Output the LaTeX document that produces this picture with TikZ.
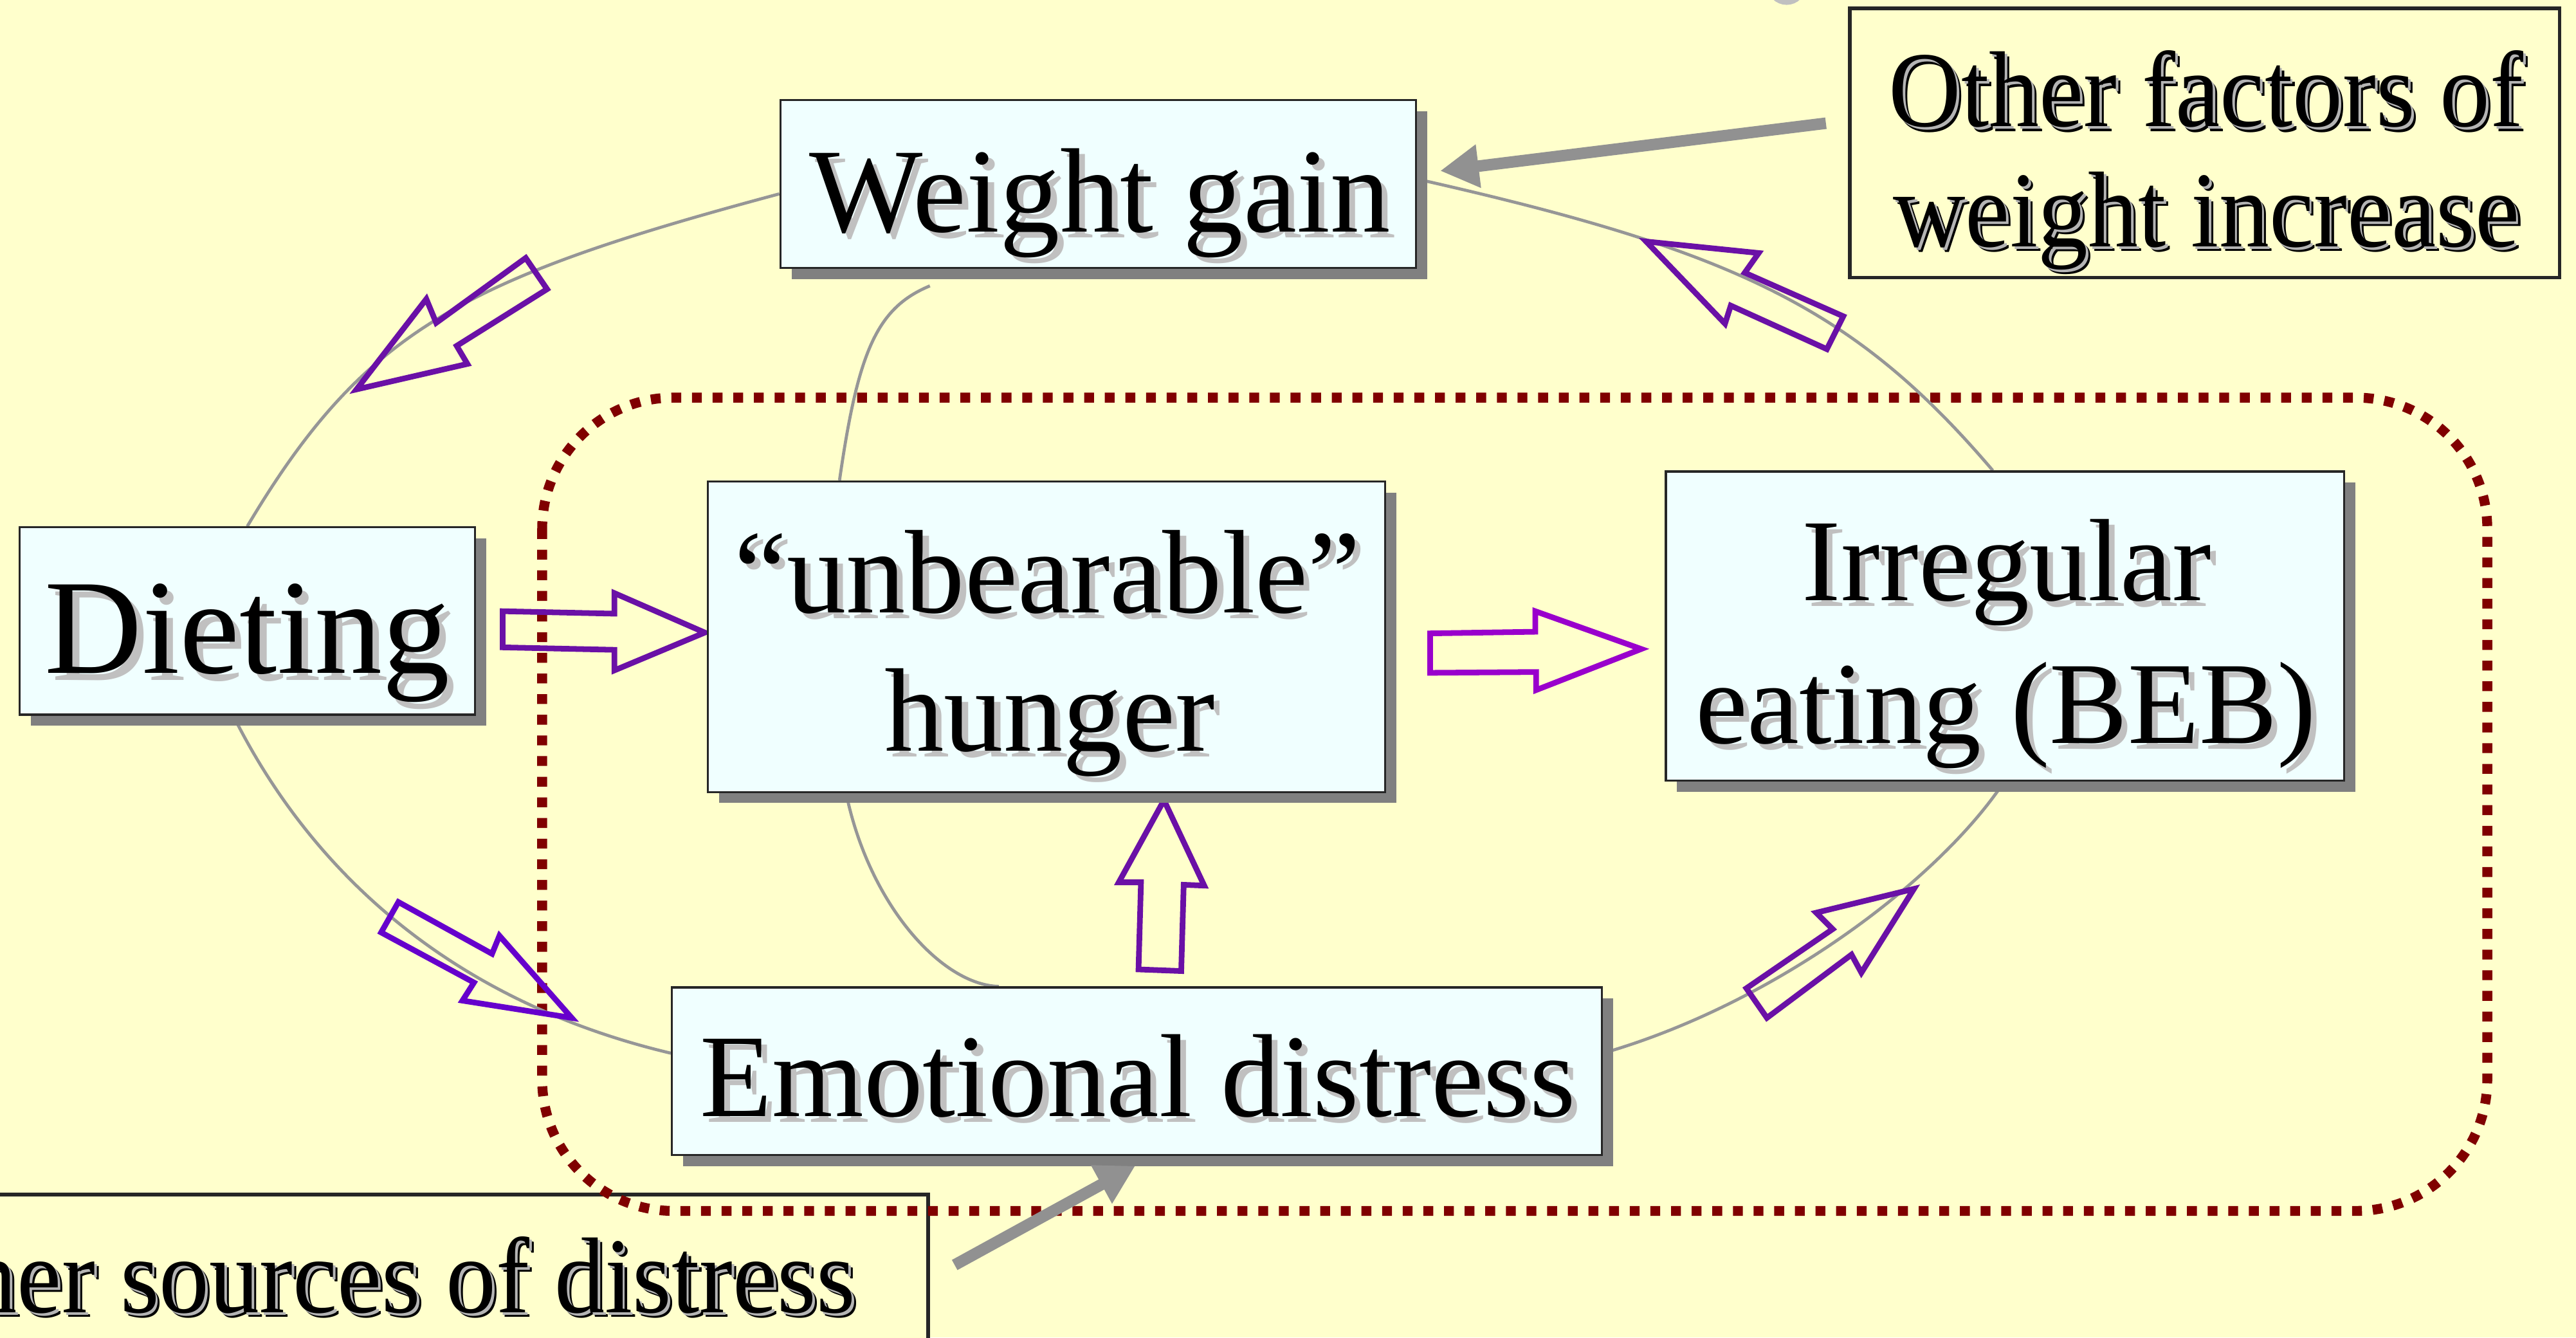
\documentclass[tikz,border=0pt]{standalone}
\usepackage{fontspec}
\setmainfont{Liberation Serif}
\usepackage{graphicx}
\usetikzlibrary{calc,fit,shadows,arrows.meta}

\pgfdeclarelayer{bg}
\pgfsetlayers{bg,main}

\definecolor{slideyellow}{RGB}{255,255,204}
\definecolor{boxfill}{RGB}{240,255,255}
\definecolor{boxline}{RGB}{38,38,38}
\definecolor{boxshade}{RGB}{128,128,128}
\definecolor{loopgray}{RGB}{150,150,150}
\definecolor{hintgray}{RGB}{145,145,145}
\definecolor{txtshade}{RGB}{192,192,192}
\definecolor{embgray}{RGB}{180,180,180}
\definecolor{zonered}{RGB}{128,0,0}
\definecolor{arrowpurple}{RGB}{106,16,166}
\definecolor{arrowmagenta}{RGB}{153,0,204}
\definecolor{arrowviolet}{RGB}{102,0,204}

% text with a soft shadow (cyan boxes)
\newcommand{\shtxt}[1]{\makebox[0pt][l]{\kern0.05em\raisebox{-0.05em}{\textcolor{txtshade}{#1}}}#1}
% embossed, narrow text (yellow boxes)
\newcommand{\embtxt}[1]{\scalebox{0.93}[1]{\makebox[0pt][l]{\kern0.045em\raisebox{-0.045em}{#1}}\makebox[0pt][l]{\kern0.025em\raisebox{-0.025em}{\textcolor{embgray}{#1}}}#1}}

\tikzset{
  cyanbox/.style={draw=boxline, line width=0.8pt, fill=boxfill, inner sep=0pt,
    drop shadow={shadow xshift=4.35pt, shadow yshift=-4.35pt, opacity=1, fill=boxshade}},
  notebox/.style={draw=boxline, line width=1.4pt, fill=slideyellow, inner sep=0pt},
  loopline/.style={draw=loopgray, line width=1.2pt},
  bigarrow/.style={draw=arrowpurple, line width=2.2pt, line join=miter},
  hintarrow/.style={draw=hintgray, line width=4.5pt, -{Triangle[length=15pt,width=16pt]}},
  lbl/.style={anchor=base, inner sep=0pt},
}

\begin{document}
\begin{tikzpicture}[x=0.64pt,y=0.64pt,yscale=-1,xscale=1]
\useasboundingbox (0,0) rectangle (1568,814);

%Shape: Rectangle
\node [cyanbox, fit={(475,61) (862,163)}] (wg) {};
%Shape: Rectangle
\node [cyanbox, fit={(12,321) (289,435)}] (diet) {};
%Shape: Rectangle
\node [cyanbox, fit={(431,293) (843,482)}] (hun) {};
%Shape: Rectangle
\node [cyanbox, fit={(1014,287) (1427,475)}] (irr) {};
%Shape: Rectangle
\node [cyanbox, fit={(409,601) (975,703)}] (emo) {};
%Shape: Rectangle
\node [notebox, fit={(1126,5) (1558,169)}] (oth) {};

\begin{pgfonlayer}{bg}
\fill [slideyellow] (0,0) rectangle (1568,814);
%Shape: Circle
\draw [draw=txtshade, line width=2.5pt, fill={rgb,255:red,220;green,220;blue,205}] (1087.5,-9) circle (10);
%Shape: Rectangle
\node [notebox, fit={(-200,727) (565,900)}] (src) {};
% Text Node
\draw (521,798.7) node [lbl, anchor=base east, font=\fontsize{42}{50}\selectfont] (srctxt) {\embtxt{Other sources of distress}};

%Rounded Rect
\draw [draw=zonered, line width=3.84pt, dash pattern=on 3.84pt off 4.2pt, rounded corners=51.2pt] (330,242) rectangle (1514,737);

%Curve Lines
\draw [loopline] ($(wg.west)+(0,6)$) .. controls (281.8,169.6) and (221.7,200.7) .. (diet.north);
%Curve Lines
\draw [loopline] ($(wg.east)+(0,-3)$) .. controls (1057,152.8) and (1129,187.8) .. ($(irr.north)+(-7.5,0)$);
%Curve Lines
\draw [loopline] ($(diet.south)+(-8.5,0)$) .. controls (191,533.5) and (277.6,610) .. ($(emo.west)+(0,-11)$);
%Curve Lines
\draw [loopline] ($(emo.east)+(0,-11)$) .. controls (1080.7,610.8) and (1180.2,535.6) .. ($(irr.south)+(-0.5,0)$);
%Curve Lines
\coordinate (hookend) at (566,174);
\draw [loopline] ($(hun.north)+(-126,0)$) .. controls (522.3,213.8) and (533.7,187.4) .. (hookend);
%Curve Lines
\draw [loopline] ($(hun.south)+(-122,0)$) .. controls (529,550.6) and (573.2,599.5) .. ($(emo.north)+(-84,0)$);

%Block Arrows
\draw [bigarrow] (306,372) -- (374,373.5) -- (374,361) -- (429,385) -- (374,408) -- (374,395.5) -- (306,394) -- cycle;
\draw [bigarrow, draw=arrowmagenta] (870.5,385.5) -- (934.5,384.5) -- (934.5,372) -- (999,395) -- (935,420) -- (935,409) -- (870.5,409.5) -- cycle;
\draw [bigarrow] (693,590) -- (694.5,537) -- (681,537) -- (708.5,487) -- (733,539) -- (720.5,538.5) -- (719,591) -- cycle;
\draw [bigarrow] (217,237) -- (259.5,182) -- (265.5,196.5) -- (320,157) -- (333,176) -- (278,210.5) -- (284.5,221.5) -- cycle;
\draw [bigarrow] (1002,147) -- (1070.5,154) -- (1062,166) -- (1122,192.5) -- (1112,212.5) -- (1053.5,186) -- (1050,197) -- cycle;
\draw [bigarrow, draw=arrowviolet] (242.5,549) -- (299.5,580.5) -- (304,569.5) -- (348,619.5) -- (281.5,609) -- (288.5,598) -- (232,567.5) -- cycle;
\draw [bigarrow] (1165,541) -- (1105.5,555.5) -- (1115.5,565.5) -- (1063,601.5) -- (1075.5,619.5) -- (1127,581) -- (1133,592) -- cycle;
\end{pgfonlayer}

% Text Node
\draw (669.5,141) node [lbl, font=\fontsize{46.8}{56}\selectfont] (wgtxt) {\shtxt{Weight gain}};
% Text Node
\draw (150.5,409.9) node [lbl, font=\fontsize{52.6}{62}\selectfont] (diettxt) {\shtxt{Dieting}};
% Text Node
\draw (637.5,373) node [lbl, font=\fontsize{46.3}{55}\selectfont] (huntxtA) {\shtxt{“unbearable”}};
% Text Node
\draw (639,457) node [lbl, font=\fontsize{46.3}{55}\selectfont] (huntxtB) {\shtxt{hunger}};
% Text Node
\draw (1221.5,365.5) node [lbl, font=\fontsize{45.6}{55}\selectfont] (irrtxtA) {\shtxt{Irregular}};
% Text Node
\draw (1221,452.4) node [lbl, font=\fontsize{45.6}{55}\selectfont] (irrtxtB) {\shtxt{eating (BEB)}};
% Text Node
\draw (692.5,679.5) node [lbl, font=\fontsize{46}{55}\selectfont] (emotxt) {\shtxt{Emotional distress}};
% Text Node
\draw (1343,77) node [lbl, font=\fontsize{42}{50}\selectfont] (othtxtA) {\embtxt{Other factors of}};
% Text Node
\draw (1343,150) node [lbl, font=\fontsize{42}{50}\selectfont] (othtxtB) {\embtxt{weight increase}};

%Straight Lines
\draw [hintarrow] ($(oth.west)+(-13.5,-12)$) -- ($(wg.east)+(14,-8)$);
%Straight Lines
\draw [hintarrow] ($(src.north east)+(15,44)$) -- ($(emo.south)+(-1,6)$);

\end{tikzpicture}
\end{document}
